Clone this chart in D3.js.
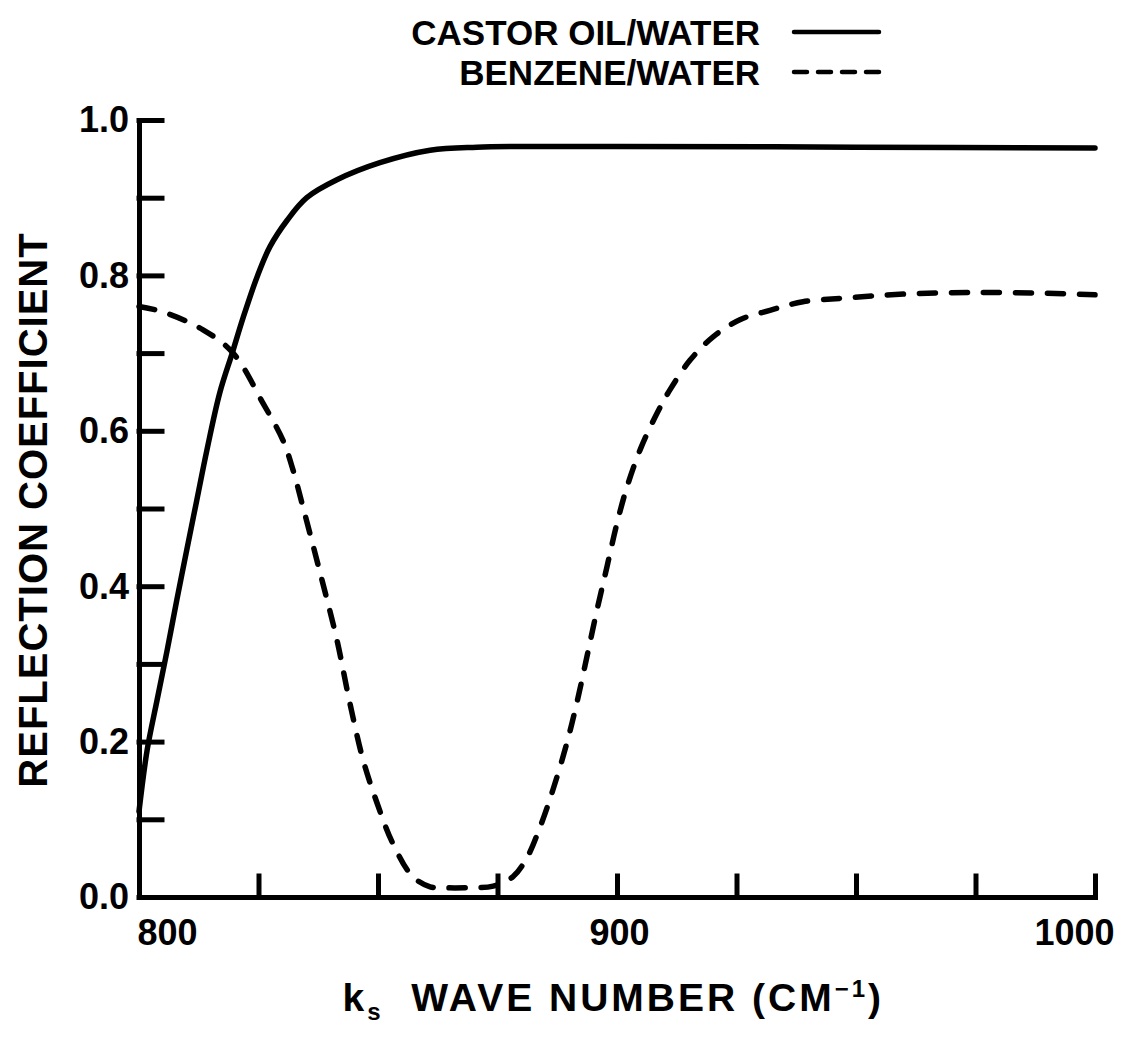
<!DOCTYPE html>
<html>
<head>
<meta charset="utf-8">
<script src="https://cdn.jsdelivr.net/npm/d3@7"></script>
<style>
  body { margin: 0; background: #fff; }
  svg { display: block; }
  text { font-family: "Liberation Sans", Arial, sans-serif; font-weight: bold; fill: #000; }
</style>
</head>
<body>
<div id="chart"></div>
<script>
// Castor oil / water (solid)
var castorK = [800, 801.7, 803.8, 805.9, 807.9, 810.0, 812.1, 814.2, 816.9, 819.5, 821.8, 824.7,
    827.4, 831.0, 835.1, 841.4, 850.4, 860.9, 870.7, 900, 950, 1000];
var castorR = [0.11, 0.189, 0.254, 0.318, 0.382, 0.447, 0.511, 0.575, 0.649, 0.70, 0.746, 0.798,
    0.837, 0.871, 0.90, 0.923, 0.945, 0.961, 0.965, 0.966, 0.965, 0.964];

// Benzene / water (dashed)
var benzeneK = [800, 805.0, 813.4, 819.7, 825.9, 830.1, 832.2, 834.3, 837.9, 841.4, 844.1, 846.9,
    849.8, 853.1, 857.3, 860.9, 863.0, 869.2, 874.1, 878.2, 881.2, 883.9, 886.6, 889.5, 891.6,
    893.7, 895.8, 897.9, 900.0, 902.1, 905.0, 908.4, 911.1, 915.3, 920.1, 925.7, 932.0, 938.9,
    948.1, 960, 975, 990, 1000];
var benzeneR = [0.76, 0.753, 0.73, 0.70, 0.636, 0.588, 0.55, 0.502, 0.417, 0.331, 0.25, 0.176,
    0.121, 0.069, 0.026, 0.013, 0.012, 0.012, 0.014, 0.026, 0.051, 0.09, 0.138, 0.198, 0.25,
    0.309, 0.369, 0.425, 0.481, 0.528, 0.578, 0.623, 0.653, 0.691, 0.721, 0.743, 0.755, 0.766,
    0.771, 0.776, 0.778, 0.777, 0.775];

// Axis ticks and labels
var xTicks = [800, 825, 850, 875, 900, 925, 950, 975, 1000];
var xLabels = { 800: "800", 900: "900", 1000: "1000" };
var yTicks = [0, 0.1, 0.2, 0.3, 0.4, 0.5, 0.6, 0.7, 0.8, 0.9, 1.0];
var yLabels = { 0: "0.0", 0.2: "0.2", 0.4: "0.4", 0.6: "0.6", 0.8: "0.8", 1: "1.0" };

var legendNames = ["CASTOR OIL/WATER", "BENZENE/WATER"];

var width = 1124,
    height = 1038;

var svg = d3.select("#chart")
    .append("svg")
    .attr("width", width)
    .attr("height", height);

var x = d3.scaleLinear().domain([800, 1000]).range([139, 1095]);
var y = d3.scaleLinear().domain([0, 1]).range([897, 120]);

// y axis, ticks pointing into the plot
var yAxis = svg.append("g")
    .attr("transform", "translate(" + x(800) + ",0)")
    .call(d3.axisLeft(y)
        .tickValues(yTicks)
        .tickSizeInner(-23)
        .tickSizeOuter(0)
        .tickPadding(10)
        .tickFormat(d => yLabels[Math.round(d * 10) / 10] || ""));

// x axis, ticks pointing up
var xAxis = svg.append("g")
    .attr("transform", "translate(0," + y(0) + ")")
    .call(d3.axisBottom(x)
        .tickValues(xTicks)
        .tickSizeInner(-21)
        .tickSizeOuter(0)
        .tickPadding(22)
        .tickFormat(d => xLabels[d] || ""));

svg.selectAll(".domain, .tick line")
    .attr("stroke", "#000")
    .attr("stroke-width", 5)
    .attr("stroke-linecap", "square");

yAxis.selectAll("text")
    .style("font-size", "36px")
    .attr("dy", "0.33em");

// first and last x labels sit a bit inward
var xShift = { 800: 28, 900: 2, 1000: -21 };
xAxis.selectAll("text")
    .style("font-size", "36px")
    .attr("dx", d => xShift[d] || 0);

// curves
var line = d3.line()
    .x(d => x(d[0]))
    .y(d => y(d[1]))
    .curve(d3.curveCatmullRom.alpha(0.5));

svg.append("path")
    .datum(d3.zip(castorK, castorR))
    .attr("d", line)
    .attr("fill", "none")
    .attr("stroke", "#000")
    .attr("stroke-width", 5.5)
    .attr("stroke-linecap", "round");

svg.append("path")
    .datum(d3.zip(benzeneK, benzeneR))
    .attr("d", line)
    .attr("fill", "none")
    .attr("stroke", "#000")
    .attr("stroke-width", 5.5)
    .attr("stroke-dasharray", "16,16")
    .attr("stroke-linecap", "round");

// legend
var legend = svg.append("g");
legendNames.forEach(function (name, i) {
    var ly = 32 + i * 40;
    legend.append("text")
        .attr("x", 760)
        .attr("y", ly)
        .attr("dy", "0.36em")
        .attr("text-anchor", "end")
        .style("font-size", "35px")
        .text(name);
    legend.append("line")
        .attr("x1", 794)
        .attr("x2", 879)
        .attr("y1", ly)
        .attr("y2", ly)
        .attr("stroke", "#000")
        .attr("stroke-width", 4.5)
        .attr("stroke-linecap", "round")
        .attr("stroke-dasharray", i === 0 ? null : "13,11");
});

// axis titles
svg.append("text")
    .attr("transform", "translate(33,510) rotate(-90)")
    .attr("text-anchor", "middle")
    .attr("dy", "0.36em")
    .style("font-size", "40px")
    .style("letter-spacing", "1px")
    .text("REFLECTION COEFFICIENT");

var xTitle = svg.append("text")
    .attr("x", 884)
    .attr("y", 1011)
    .attr("text-anchor", "end")
    .style("font-size", "39px")
    .style("letter-spacing", "3px");
xTitle.append("tspan").text("k");
xTitle.append("tspan").attr("dy", 9).style("font-size", "24px").text("s");
xTitle.append("tspan").attr("dy", -9).text("\u00a0 WAVE NUMBER (CM");
xTitle.append("tspan").attr("dy", -14).style("font-size", "24px").text("\u22121");
xTitle.append("tspan").attr("dy", 14).text(")");
</script>
</body>
</html>
